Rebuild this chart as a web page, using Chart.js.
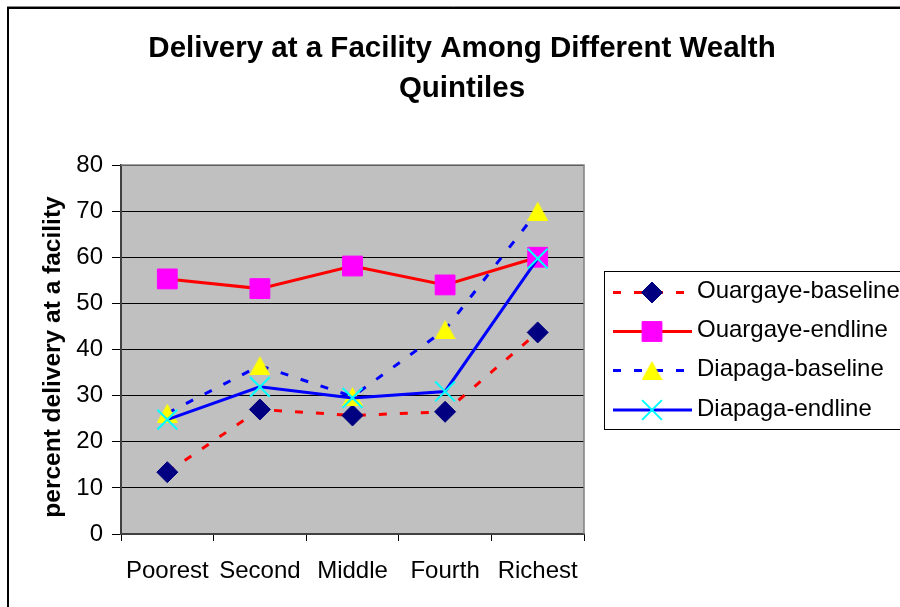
<!DOCTYPE html>
<html>
<head>
<meta charset="utf-8">
<script src="https://cdn.jsdelivr.net/npm/chart.js@4.4.0/dist/chart.umd.min.js"></script>
<style>
html, body { margin: 0; padding: 0; background: #fff; overflow: hidden; }
canvas { display: block; }
</style>
</head>
<body>
<canvas id="chart" width="900" height="607"></canvas>
<script>
// data
const categories = ['Poorest', 'Second', 'Middle', 'Fourth', 'Richest'];
const ouargayeBaseline = [13.4, 27.0, 25.7, 26.5, 43.7];
const ouargayeEndline = [55.3, 53.2, 58.1, 54.0, 60.0];
const diapagaBaseline = [26.2, 36.5, 29.8, 44.3, 70.0];
const diapagaEndline = [24.8, 31.9, 29.5, 30.9, 59.7];
const seriesNames = ['Ouargaye-baseline', 'Ouargaye-endline', 'Diapaga-baseline', 'Diapaga-endline'];
const yTicks = [0, 10, 20, 30, 40, 50, 60, 70, 80];
const titleLines = ['Delivery at a Facility Among Different Wealth', 'Quintiles'];
const yTitle = 'percent delivery at a facility';

const FONT = "'Liberation Sans', Arial, sans-serif";
Chart.defaults.font.family = FONT;
Chart.defaults.color = '#000';

// yellow triangle marker, centred on its box like the Excel one
function makeTriangle(){
  const c = document.createElement('canvas');
  c.width = 21; c.height = 19;
  const g = c.getContext('2d');
  g.fillStyle = '#FFFF00';
  g.beginPath(); g.moveTo(10.5, 0); g.lineTo(21, 19); g.lineTo(0, 19); g.closePath(); g.fill();
  return c;
}
const triangle = makeTriangle();

const dash = [8, 13];

const datasets = [
  { label: seriesNames[0], data: ouargayeBaseline, borderColor: '#FF0000', borderWidth: 3, borderDash: dash,
    pointStyle: 'rectRot', pointRadius: 10.5, pointBackgroundColor: '#000080', pointBorderColor: '#000080', pointBorderWidth: 1, order: 3 },
  { label: seriesNames[1], data: ouargayeEndline, borderColor: '#FF0000', borderWidth: 3,
    pointStyle: 'rect', pointRadius: 14, pointBackgroundColor: '#FF00FF', pointBorderColor: '#FF00FF', pointBorderWidth: 1, order: 2 },
  { label: seriesNames[2], data: diapagaBaseline, borderColor: '#0000FF', borderWidth: 3, borderDash: dash,
    pointStyle: triangle, pointRadius: 10, pointBackgroundColor: '#FFFF00', pointBorderColor: '#FFFF00', pointBorderWidth: 0, order: 1 },
  { label: seriesNames[3], data: diapagaEndline, borderColor: '#0000FF', borderWidth: 3,
    pointStyle: 'crossRot', pointRadius: 14, pointBackgroundColor: '#00FFFF', pointBorderColor: '#00FFFF', pointBorderWidth: 2, order: 0 }
];
datasets.forEach(d => { d.tension = 0; d.fill = false; d.pointHoverRadius = d.pointRadius; });

// markers for the legend, drawn the same way as in the plot
function drawMarker(ctx, ds, x, y){
  ctx.save();
  ctx.fillStyle = ds.pointBackgroundColor;
  ctx.strokeStyle = ds.pointBorderColor;
  ctx.lineWidth = ds.pointBorderWidth;
  Chart.helpers.drawPoint(ctx, { pointStyle: ds.pointStyle, rotation: 0, radius: ds.pointRadius, borderWidth: ds.pointBorderWidth }, x, y);
  ctx.restore();
}

const decor = {
  id: 'decor',
  beforeDraw(chart){
    const { ctx, chartArea: a } = chart;
    ctx.save();
    ctx.fillStyle = '#fff';
    ctx.fillRect(0, 0, chart.width, chart.height);
    ctx.fillStyle = '#C0C0C0';
    ctx.fillRect(a.left, a.top, a.right - a.left, a.bottom - a.top);
    ctx.restore();
  },
  afterDraw(chart){
    const { ctx, chartArea: a } = chart;
    ctx.save();
    // plot frame top/right
    ctx.strokeStyle = '#808080';
    ctx.lineWidth = 1.5;
    ctx.beginPath();
    ctx.moveTo(a.left, a.top); ctx.lineTo(a.right, a.top); ctx.lineTo(a.right, a.bottom);
    ctx.stroke();

    // title
    ctx.fillStyle = '#000';
    ctx.textAlign = 'center';
    ctx.textBaseline = 'alphabetic';
    ctx.font = 'bold 29.5px ' + FONT;
    ctx.fillText(titleLines[0], 462, 57);
    ctx.fillText(titleLines[1], 462, 97);

    // y axis title
    ctx.save();
    ctx.translate(53, 357);
    ctx.rotate(-Math.PI / 2);
    ctx.textBaseline = 'middle';
    ctx.font = 'bold 24.5px ' + FONT;
    ctx.fillText(yTitle, 0, 0);
    ctx.restore();

    // legend
    const rows = [292.5, 331.5, 370.5, 410];
    ctx.fillStyle = '#fff';
    ctx.fillRect(604.5, 271.5, 400, 158);
    ctx.strokeStyle = '#000';
    ctx.lineWidth = 1;
    ctx.strokeRect(604.5, 271.5, 400, 158);
    chart.data.datasets.forEach((ds, i) => {
      const y = rows[i];
      ctx.save();
      ctx.strokeStyle = ds.borderColor;
      ctx.lineWidth = ds.borderWidth;
      ctx.setLineDash(ds.borderDash || []);
      ctx.beginPath(); ctx.moveTo(613, y); ctx.lineTo(692, y); ctx.stroke();
      ctx.restore();
      drawMarker(ctx, ds, 652, y);
      ctx.fillStyle = '#000';
      ctx.textAlign = 'left';
      ctx.font = '24px ' + FONT;
      ctx.fillText(ds.label, 697, y + 5.5);
    });

    // outer chart border
    ctx.strokeStyle = '#888';
    ctx.lineWidth = 1;
    ctx.beginPath(); ctx.moveTo(7, 6.5); ctx.lineTo(900, 6.5); ctx.stroke();
    ctx.strokeStyle = '#000';
    ctx.lineWidth = 2;
    ctx.strokeRect(8, 8, 2000, 2000);
    ctx.restore();
  }
};

new Chart(document.getElementById('chart'), {
  type: 'line',
  data: { labels: categories, datasets },
  options: {
    responsive: false,
    animation: false,
    events: [],
    layout: { padding: { left: 0, top: 165, right: 316, bottom: 0 } },
    plugins: { legend: { display: false }, title: { display: false }, tooltip: { enabled: false } },
    scales: {
      x: {
        offset: true,
        grid: { offset: true, drawOnChartArea: false, drawTicks: true, tickLength: 7, color: '#000' },
        border: { color: '#404040', width: 2 },
        ticks: { color: '#000', font: { size: 24 }, padding: 16, maxRotation: 0, autoSkip: false },
        afterFit(s){ s.height = 73; }
      },
      y: {
        min: 0, max: 80,
        afterBuildTicks(s){ s.ticks = yTicks.map(v => ({ value: v })); },
        grid: { color: '#000', lineWidth: 1, tickLength: 9 },
        border: { color: '#404040', width: 2 },
        ticks: { color: '#000', font: { size: 24 }, padding: 9 },
        afterFit(s){ s.width = 121; }
      }
    }
  },
  plugins: [decor]
});
</script>
</body>
</html>
